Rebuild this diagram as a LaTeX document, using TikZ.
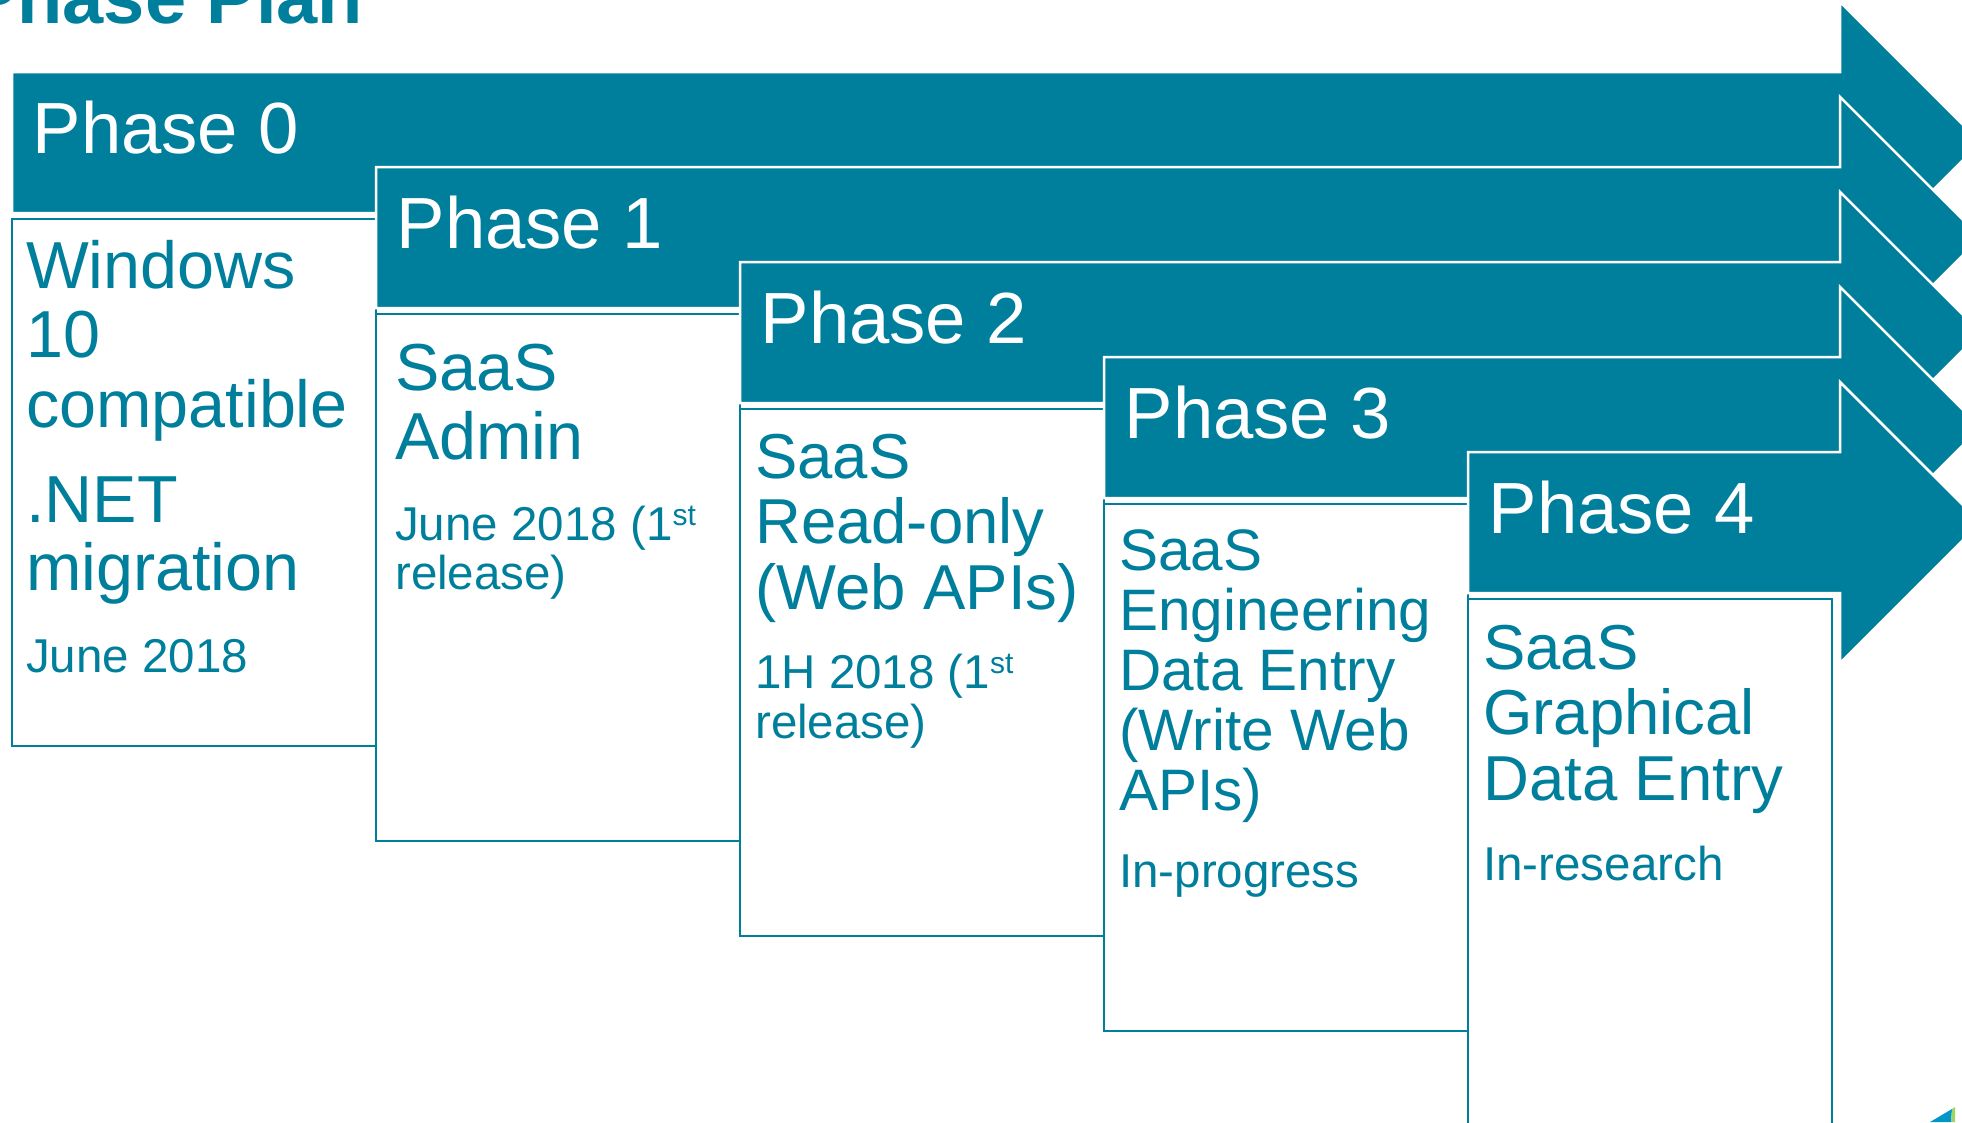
\documentclass[tikz,border=0pt]{standalone}
\usepackage{fontspec}
\setmainfont{Liberation Sans}
\definecolor{tealc}{RGB}{0,127,156}
\definecolor{logoblue}{RGB}{0,150,200}
\definecolor{logogreen}{RGB}{160,210,100}
\newcommand\supst{\raisebox{15pt}{\fontsize{30}{30}\selectfont st}}
\newcommand\ptext[3]{\parbox[t]{345pt}{\fontsize{#1}{#2}\selectfont\raggedright #3}}
\tikzset{
  phasearrow/.style={fill=tealc, draw=white, line width=2.5pt, line join=miter},
  infobox/.style={draw=tealc, fill=white, line width=2.5pt},
  phaselabel/.style={anchor=base west, inner sep=0pt, text=white, font=\fontsize{72.5}{72.5}\selectfont},
  boxtext/.style={anchor=base west, inner sep=0pt, text=tealc},
}
\begin{document}
\begin{tikzpicture}[x=1pt,y=-1pt]
\useasboundingbox (0,0) rectangle (1962,1122);
\clip (0,0) rectangle (1962,1122);
\node[anchor=base west, inner sep=0pt, text=tealc, font=\fontsize{74}{74}\selectfont\bfseries] (title) at (-32,23) {Phase Plan};
\foreach \i in {0,...,4}{
  \pgfmathsetmacro\L{12+364*\i}
  \pgfmathsetmacro\T{72+95*\i}
  \pgfmathsetmacro\B{\T+141}
  \filldraw[phasearrow] (\L,\T) -- (1840,\T) -- (1840,\T-70) -- (1980.5,\T+70.5) -- (1840,\B+70) -- (1840,\B) -- (\L,\B) -- cycle;
  \draw[infobox] (\L,\T+147) rectangle (\L+364,\T+674);
  \node[phaselabel] (ph\i) at (\L+20.5,\T+81) {Phase \i};
}
% box 0
\node[boxtext] (t0a) at (26,288) {\ptext{66.5}{69.5}{Windows\\10\\compatible}};
\node[boxtext] (t0b) at (26,522) {\ptext{66.5}{68}{.NET\\migration}};
\node[boxtext] (t0c) at (26,672) {\ptext{47.5}{50}{June 2018}};
% box 1
\node[boxtext] (t1a) at (395,390) {\ptext{66.5}{69}{SaaS\\Admin}};
\node[boxtext] (t1b) at (395,540) {\ptext{47.5}{49}{June 2018 (1\supst\\release)}};
% box 2
\node[boxtext] (t2a) at (755,478) {\ptext{63.5}{65.5}{SaaS\\Read-only\\(Web APIs)}};
\node[boxtext] (t2b) at (755,688) {\ptext{47.5}{50}{1H 2018 (1\supst\\release)}};
% box 3
\node[boxtext] (t3a) at (1119,570) {\ptext{58.5}{60}{SaaS\\Engineering\\Data Entry\\(Write Web\\APIs)}};
\node[boxtext] (t3b) at (1119,887) {\ptext{47.5}{50}{In-progress}};
% box 4
\node[boxtext] (t4a) at (1483,669) {\ptext{63.5}{65.5}{SaaS\\Graphical\\Data Entry}};
\node[boxtext] (t4b) at (1483,880) {\ptext{47.5}{50}{In-research}};
% logo fragment
\fill[logoblue] (1930,1122) -- (1952,1109) -- (1951,1122) -- cycle;
\fill[logogreen] (1951,1122) -- (1952,1109) -- (1955,1107) -- (1955,1122) -- cycle;
\end{tikzpicture}
\end{document}
